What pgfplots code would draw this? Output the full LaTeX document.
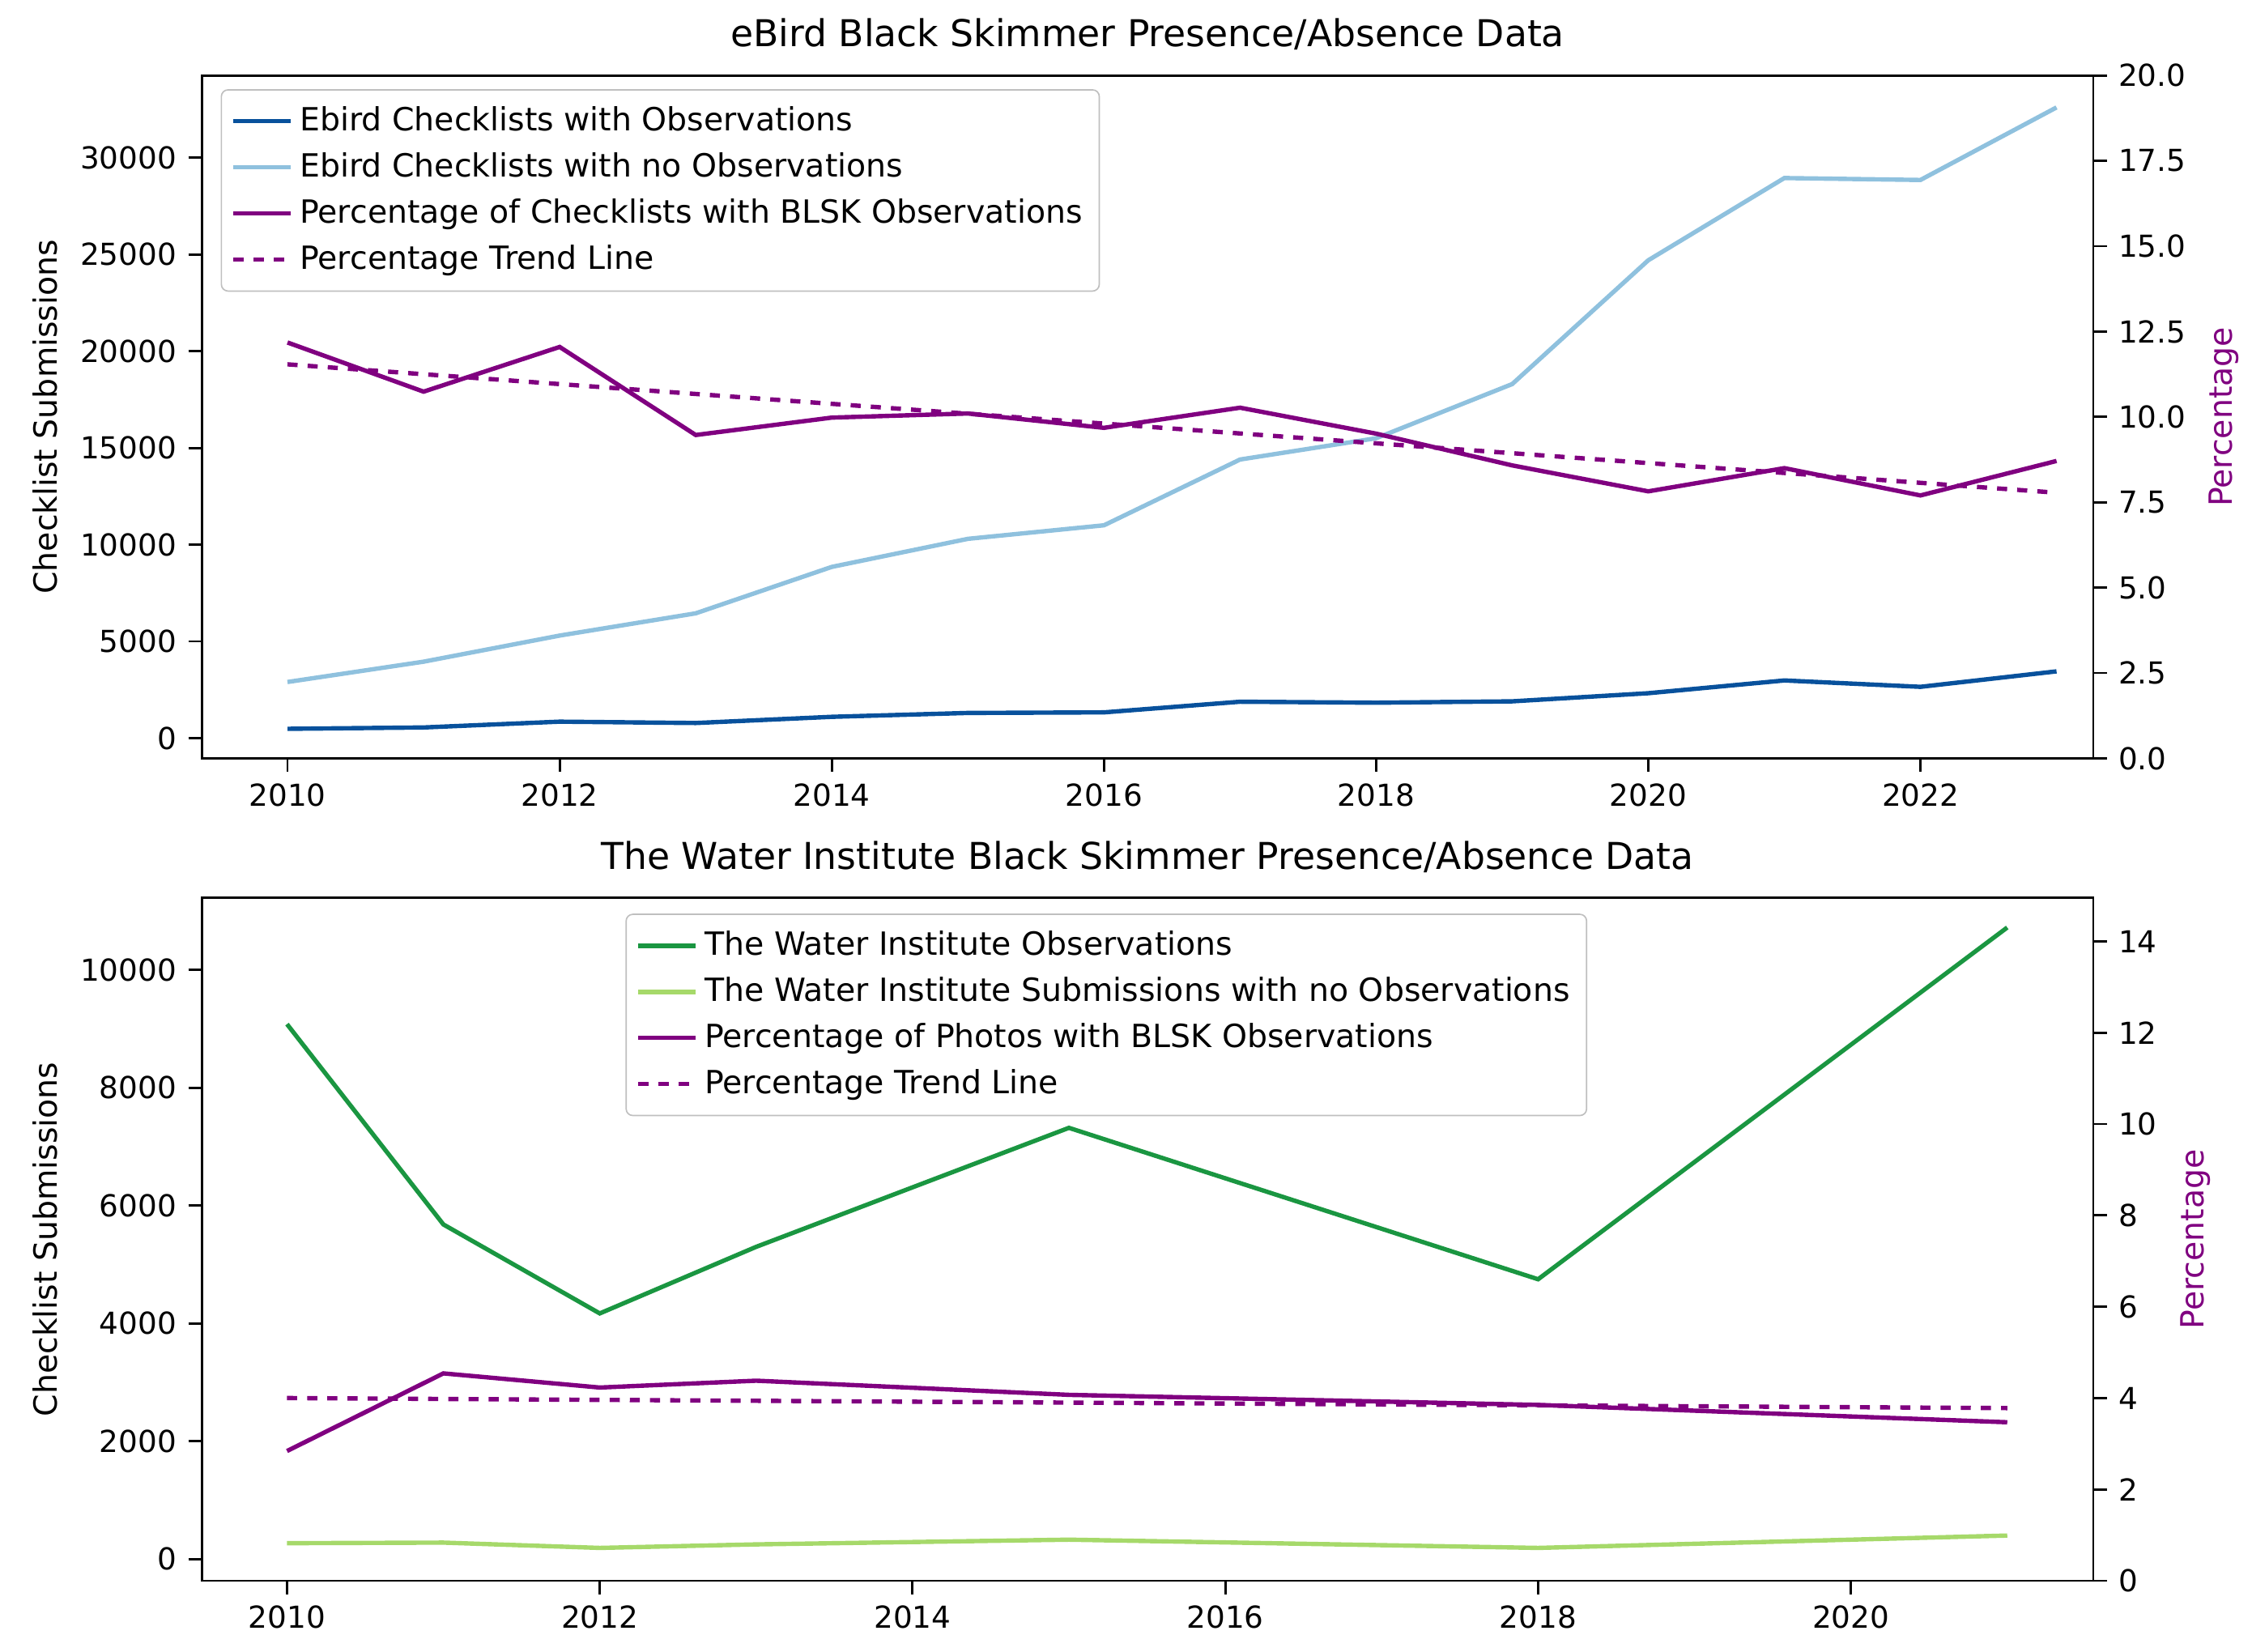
\documentclass[border=0pt]{standalone}
\usepackage{pgfplots}
\pgfplotsset{compat=1.18}
\usepackage{fontspec}
\setmainfont{DejaVu Sans}
\definecolor{dblue}{HTML}{08519C}
\definecolor{lblue}{HTML}{8FC1DE}
\definecolor{dgreen}{HTML}{1A9641}
\definecolor{lgreen}{HTML}{A6D96A}
\definecolor{purp}{HTML}{800080}
\pgfplotsset{
 base/.style={scale only axis, width=19.78cm, height=7.14cm, font=\fontsize{9}{11}\selectfont,
  /pgf/number format/assume math mode=true, /pgf/number format/1000 sep={},
  scaled y ticks=false, tick align=outside, major tick length=4pt,
  axis line style={black, line width=0.7pt}, every tick/.style={black, line width=0.7pt},
  every axis plot/.append style={line width=1.3pt}, ylabel style={font=\fontsize{9.5}{11}\selectfont}},
 leg/.style={legend cell align=left, legend style={draw=black!25, rounded corners=2pt, font=\fontsize{9.5}{12}\selectfont, inner sep=3pt, row sep=1pt}},
}
\begin{document}
\begin{tikzpicture}
\path[use as bounding box] (0,0) rectangle (23.55cm,17.27cm);
% top
\begin{axis}[base, at={(2.11cm,9.34cm)}, anchor=south west,
 xmin=2009.37, xmax=2023.27, ymin=-1045, ymax=34250,
 xtick={2010,2012,...,2022}, ytick={0,5000,...,30000},
 xtick pos=bottom, ytick pos=left,
 ylabel={Checklist Submissions},
 title={eBird Black Skimmer Presence/Absence Data}, title style={font=\fontsize{11}{13}\selectfont, yshift=-2pt},
 leg, legend style={at={(0.01,0.98)}, anchor=north west}]
\addplot[dblue] coordinates {(2010,480)(2011,550)(2012,850)(2013,780)(2014,1100)(2015,1300)(2016,1330)(2017,1880)(2018,1830)(2019,1900)(2020,2320)(2021,2980)(2022,2650)(2023,3450)};
\addlegendentry{Ebird Checklists with Observations}
\addplot[lblue] coordinates {(2010,2900)(2011,3950)(2012,5300)(2013,6450)(2014,8850)(2015,10300)(2016,11000)(2017,14400)(2018,15500)(2019,18300)(2020,24700)(2021,28950)(2022,28850)(2023,32600)};
\addlegendentry{Ebird Checklists with no Observations}
\addlegendimage{purp, line width=1.3pt}
\addlegendentry{Percentage of Checklists with BLSK Observations}
\addlegendimage{purp, dashed, line width=1.3pt}
\addlegendentry{Percentage Trend Line}
\end{axis}
\begin{axis}[base, at={(2.11cm,9.34cm)}, anchor=south west,
 xmin=2009.37, xmax=2023.27, ymin=0, ymax=20,
 axis x line=none, axis y line*=right, ytick={0,2.5,...,20},
 yticklabel style={/pgf/number format/.cd, fixed, fixed zerofill, precision=1},
 ylabel={Percentage}, ylabel style={color=purp}]
\addplot[purp] coordinates {(2010,12.18)(2011,10.74)(2012,12.05)(2013,9.47)(2014,9.98)(2015,10.1)(2016,9.68)(2017,10.27)(2018,9.51)(2019,8.58)(2020,7.82)(2021,8.5)(2022,7.7)(2023,8.71)};
\addplot[purp, dashed] coordinates {(2010,11.54)(2023,7.78)};
\end{axis}
% bottom
\begin{axis}[base, at={(2.11cm,0.74cm)}, anchor=south west,
 xmin=2009.455, xmax=2021.55, ymin=-367, ymax=11222,
 xtick={2010,2012,...,2020}, ytick={0,2000,...,10000},
 xtick pos=bottom, ytick pos=left,
 ylabel={Checklist Submissions},
 title={The Water Institute Black Skimmer Presence/Absence Data}, title style={font=\fontsize{11}{13}\selectfont, yshift=-2pt},
 leg, legend style={at={(0.224,0.977)}, anchor=north west}]
\addplot[dgreen] coordinates {(2010,9080)(2011,5680)(2012,4170)(2013,5300)(2015,7320)(2018,4750)(2021,10720)};
\addlegendentry{The Water Institute Observations}
\addplot[lgreen] coordinates {(2010,270)(2011,280)(2012,190)(2013,250)(2015,330)(2018,190)(2021,400)};
\addlegendentry{The Water Institute Submissions with no Observations}
\addlegendimage{purp, line width=1.3pt}
\addlegendentry{Percentage of Photos with BLSK Observations}
\addlegendimage{purp, dashed, line width=1.3pt}
\addlegendentry{Percentage Trend Line}
\end{axis}
\begin{axis}[base, at={(2.11cm,0.74cm)}, anchor=south west,
 xmin=2009.455, xmax=2021.55, ymin=0, ymax=14.95,
 axis x line=none, axis y line*=right, ytick={0,2,...,14},
 ylabel={Percentage}, ylabel style={color=purp}]
\addplot[purp] coordinates {(2010,2.84)(2011,4.54)(2012,4.23)(2013,4.38)(2015,4.07)(2018,3.85)(2021,3.47)};
\addplot[purp, dashed] coordinates {(2010,4.0)(2021,3.78)};
\end{axis}
\end{tikzpicture}
\end{document}
